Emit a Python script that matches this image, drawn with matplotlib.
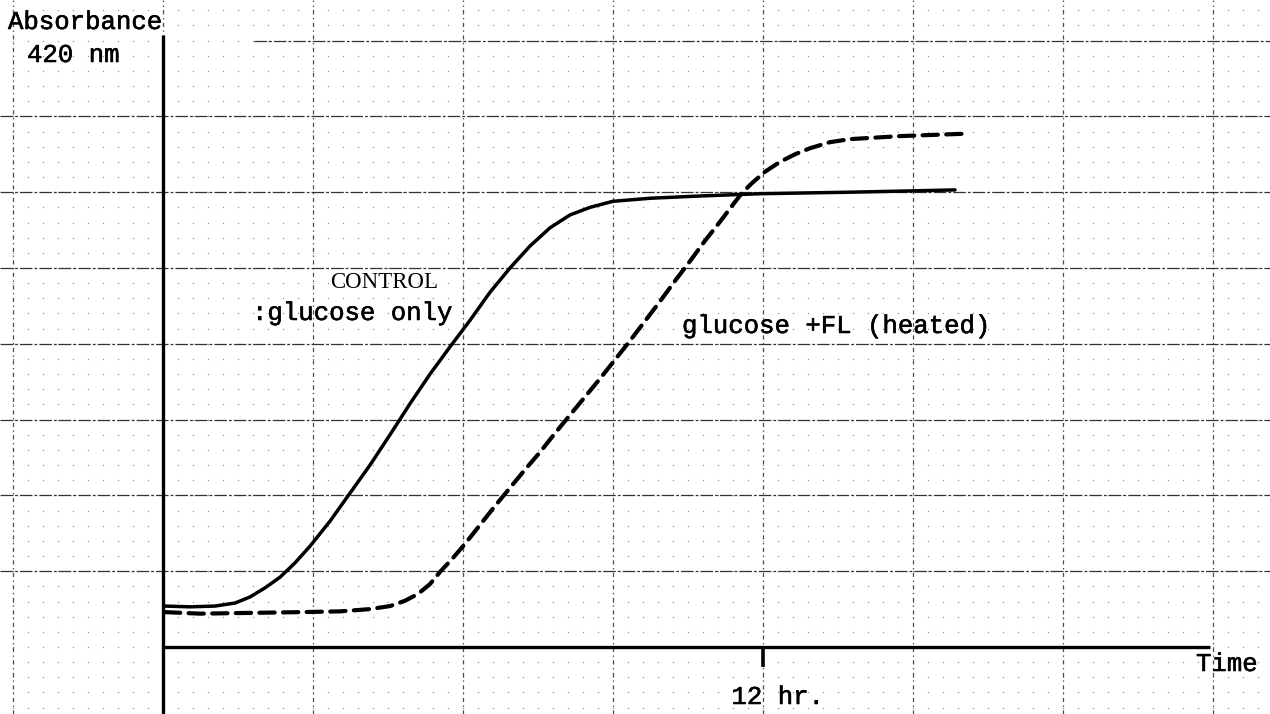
import numpy as np
import matplotlib
matplotlib.use("Agg")
from matplotlib import pyplot as plt
from matplotlib import patheffects as pe

# reaction time (hr) and absorbance at 420 nm
control_hr = [0.04, 0.54, 1.04, 1.44, 1.74, 2.04, 2.34, 2.64, 2.94, 3.34, 3.74, 4.14,
              4.54, 4.94, 5.34, 5.74, 6.14, 6.54, 6.94, 7.34, 7.74, 8.14, 8.54, 9.00,
              9.74, 10.74, 11.94, 13.74, 15.84]
control_abs = [0.054, 0.053, 0.054, 0.058, 0.066, 0.078, 0.092, 0.111, 0.133, 0.166,
               0.203, 0.240, 0.280, 0.321, 0.360, 0.396, 0.431, 0.468, 0.500, 0.529,
               0.553, 0.570, 0.580, 0.588, 0.592, 0.595, 0.598, 0.600, 0.603]

fl_hr = [0.04, 0.74, 1.74, 2.74, 3.54, 4.14, 4.54, 4.84, 5.10, 5.34, 5.54, 5.78,
         6.04, 6.34, 6.64, 6.94, 7.24, 7.54, 7.84, 8.14, 8.44, 8.74, 9.04, 9.34,
         9.64, 9.94, 10.24, 10.54, 10.84, 11.14, 11.38, 11.58, 11.78, 12.04, 12.34,
         12.64, 12.94, 13.34, 13.74, 14.74, 15.98]
fl_abs = [0.046, 0.044, 0.045, 0.046, 0.047, 0.050, 0.054, 0.061, 0.070, 0.083,
          0.099, 0.116, 0.136, 0.161, 0.186, 0.210, 0.234, 0.257, 0.282, 0.306,
          0.330, 0.354, 0.379, 0.404, 0.430, 0.456, 0.483, 0.509, 0.536, 0.561,
          0.582, 0.599, 0.612, 0.627, 0.640, 0.650, 0.658, 0.666, 0.670, 0.674,
          0.677]

tick_hr = [12]
tick_labels = ["12 hr."]

plt.rcParams['lines.scale_dashes'] = False
mono = ['Liberation Mono', 'DejaVu Sans Mono']
# typewriter ink is a little heavier than the plain font
ink = [pe.withStroke(linewidth=0.4, foreground='black')]

W, H = 1270, 714
fig = plt.figure(figsize=(W / 100, H / 100), dpi=100)
ax = fig.add_axes([0, 0, 1, 1])
# 50 px per hour, 758 px per absorbance unit, origin at (163, 647) px
ax.set_xlim(-163 / 50, (W - 163) / 50)
ax.set_ylim(-(H - 647) / 758, 647 / 758)
ax.axis('off')

# chart paper: dotted minor lattice + dash-dot major lines
gx = np.arange(-3.0, 22.2, 0.3)
gy = np.arange(-0.08, 0.86, 0.02)
mx, my = np.meshgrid(gx, gy)
ax.scatter(mx.ravel(), my.ravel(), s=0.9, color='0.55', linewidths=0, zorder=1)

hgrid = dict(color='0.2', lw=0.9, ls=(0, (9, 1.5, 2, 1.5)), zorder=2)
vgrid = dict(color='0.3', lw=0.9, ls=(0, (3, 2.5, 1, 2.5)), zorder=2)
for x in np.arange(-3, 22, 3):
    ax.axvline(x, **vgrid)
for y in np.arange(0.1, 0.85, 0.1):
    if y > 0.75:
        ax.axhline(y, xmin=0.2, **hgrid)
    else:
        ax.axhline(y, **hgrid)

# axes
ax.plot([0, 0], [-0.09, 0.807], color='black', lw=2.4, solid_capstyle='butt', zorder=4)
ax.plot([0, 20.94], [0, 0], color='black', lw=2.4, solid_capstyle='butt', zorder=4)
for t in tick_hr:
    ax.plot([t, t], [0, -0.027], color='black', lw=2.6, solid_capstyle='butt', zorder=4)

# traces
ax.plot(control_hr, control_abs, color='black', lw=2.5, zorder=5,
        solid_joinstyle='round', solid_capstyle='round')
ax.plot(fl_hr, fl_abs, color='black', lw=3.0, zorder=5,
        ls=(0, (11, 6)), dash_capstyle='round', dash_joinstyle='round')


def px(x, y):
    return x / W, 1 - y / H


fs = 18.5
txt = dict(family=mono, fontsize=fs, va='baseline', path_effects=ink)
fig.text(*px(8, 29), "Absorbance", **txt)
fig.text(*px(27, 62), "420 nm", **txt)
fig.text(*px(330, 288), "CONTROL", family=['Liberation Serif', 'DejaVu Serif'],
         fontsize=16.5, va='baseline')
fig.text(*px(252, 320), ":glucose only", **txt)
fig.text(*px(682, 333), "glucose +FL (heated)", **txt)
fig.text(*px(1196, 671), "Time", **txt)
for t, lab in zip(tick_hr, tick_labels):
    xp = 163 + t * 50
    fig.text(*px(xp + 15, 704), lab, ha='center', **txt)

fig.savefig("out.png", dpi=100, facecolor='white')
